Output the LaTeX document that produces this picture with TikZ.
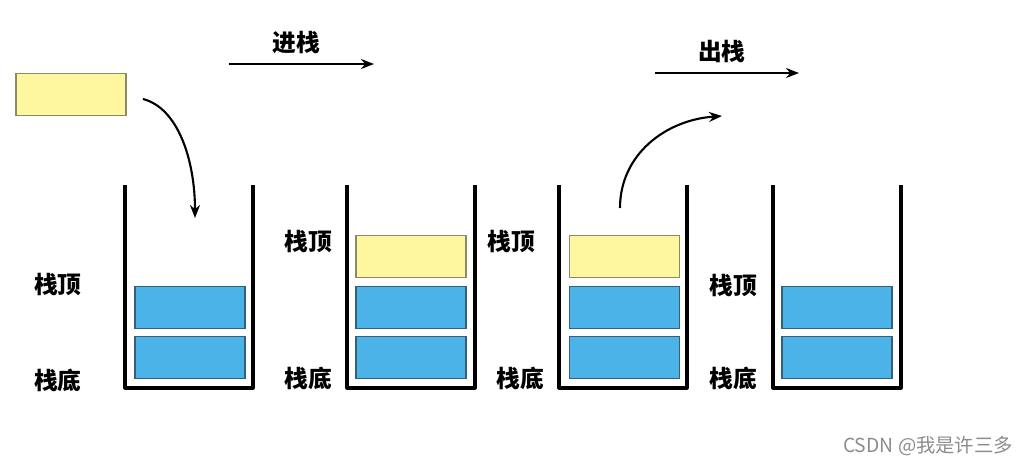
\documentclass[tikz,border=0pt]{standalone}
\usepackage{fontspec}
\setmainfont{Liberation Sans}
\newfontfamily\cjk{Noto Sans CJK SC}
\usetikzlibrary{arrows.meta,positioning}
\definecolor{cell}{HTML}{4CB3E8}
\definecolor{celledge}{HTML}{35607A}
\definecolor{newcell}{HTML}{FFF7A0}
\definecolor{newedge}{HTML}{8C8A66}
\tikzset{blk/.style={draw=celledge,fill=cell,line width=1pt,minimum width=2.2cm,minimum height=0.84cm,inner sep=0pt}, newblk/.style={blk,draw=newedge,fill=newcell}, lbl/.style={font=\cjk\bfseries\fontsize{13.5}{15}\selectfont}, wall/.style={line width=1.8pt,line join=round}, arr/.style={-{Stealth[length=2.6mm,width=2mm]},line width=1.2pt}}
\begin{document}
\begin{tikzpicture}[x=0.02cm,y=-0.02cm]
\useasboundingbox (0,0) rectangle (1029,468);
% the four stacks
\foreach \l in {125,347,559,773}
  \draw[wall] (\l,185) -- (\l,388) -- (\l+128,388) -- (\l+128,185);
% element waiting to be pushed
\node[newblk] (waiting) at (71,94.5){};
% stack 1
\node[blk] (s1a) at (190,357.5){};
\node[blk] (s1b) at (190,307.5){};
% stack 2
\node[blk] (s2a) at (411,357.5){};
\node[blk] (s2b) at (411,307.5){};
\node[newblk] (s2c) at (411,256.5){};
% stack 3
\node[blk] (s3a) at (624.5,357.5){};
\node[blk] (s3b) at (624.5,307.5){};
\node[newblk] (s3c) at (624.5,256.5){};
% stack 4
\node[blk] (s4a) at (837,357.5){};
\node[blk] (s4b) at (837,307.5){};
% top / bottom labels
\node[lbl] (top1) at (58,285){栈顶};
\node[lbl] (bot1) at (58,380){栈底};
\node[lbl] (top2) at (308,242){栈顶};
\node[lbl] (bot2) at (308,378){栈底};
\node[lbl] (top3) at (511,242){栈顶};
\node[lbl] (bot3) at (520,378){栈底};
\node[lbl] (top4) at (733,286){栈顶};
\node[lbl] (bot4) at (733,378){栈底};
% push / pop arrows
\coordinate (pushl) at (229,64);
\coordinate (pushr) at (374,64);
\draw[arr] (pushl) -- node[lbl,above=2pt,xshift=-3]{进栈} (pushr);
\coordinate (popl) at (655,73);
\coordinate (popr) at (799,73);
\draw[arr] (popl) -- node[lbl,above=2pt,xshift=-3]{出栈} (popr);
\coordinate (pushfrom) at (143,99);
\coordinate (pushto) at (195,218);
\draw[arr] (pushfrom) .. controls (178,108) and (195,160) .. (pushto);
\coordinate (popfrom) at (620,208);
\coordinate (popto) at (722,116);
\draw[arr] (popfrom) .. controls (620,155) and (665,120) .. (popto);
\node[font=\cjk\fontsize{11}{13}\selectfont,text=black!45] (mark) at (928,446){CSDN @我是许三多};
\end{tikzpicture}
\end{document}
